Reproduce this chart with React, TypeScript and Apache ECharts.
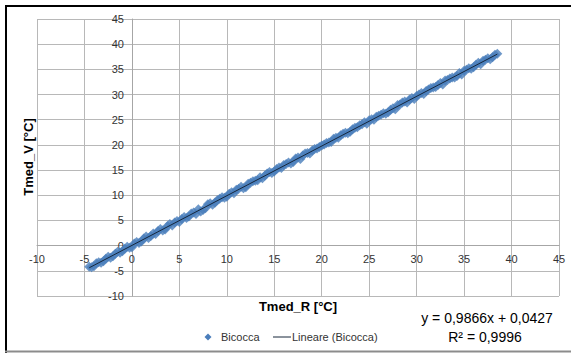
import React, { useEffect, useRef } from "react";
import * as echarts from "echarts";

const tmedR = [
  -4.5, -4.0, -3.5, -3.0, -2.5, -2.0, -1.5, -1.0, -0.5, 0, 0.5, 1.0, 1.5, 2.0, 2.5, 3.0, 3.5, 4.0, 4.5, 5.0,
  5.5, 6.0, 6.5, 7.0, 7.5, 8.0, 8.5, 9.0, 9.5, 10.0, 10.5, 11.0, 11.5, 12.0, 12.5, 13.0, 13.5, 14.0, 14.5, 15.0,
  15.5, 16.0, 16.5, 17.0, 17.5, 18.0, 18.5, 19.0, 19.5, 20.0, 20.5, 21.0, 21.5, 22.0, 22.5, 23.0, 23.5, 24.0, 24.5, 25.0,
  25.5, 26.0, 26.5, 27.0, 27.5, 28.0, 28.5, 29.0, 29.5, 30.0, 30.5, 31.0, 31.5, 32.0, 32.5, 33.0, 33.5, 34.0, 34.5, 35.0,
  35.5, 36.0, 36.5, 37.0, 37.5, 38.0, 38.5,
];
const tmedV = [
  -4.2, -4.1, -3.3, -3.1, -2.2, -2.1, -1.2, -1.1, -0.2, -0.3, 0.7, 0.8, 1.8, 1.9, 2.3, 3.3, 3.2, 4.3, 4.6, 4.7,
  5.7, 5.8, 6.6, 7.2, 7.1, 8.2, 8.1, 9.0, 9.6, 9.7, 10.6, 11.1, 11.7, 11.6, 12.5, 12.9, 13.6, 13.9, 14.6, 14.7,
  15.5, 16.0, 16.5, 16.6, 17.5, 17.9, 18.4, 18.9, 19.3, 19.9, 20.4, 20.6, 21.4, 21.9, 22.4, 22.6, 23.4, 23.9, 24.5, 24.9,
  25.0, 25.8, 26.3, 26.5, 27.3, 27.9, 28.4, 28.4, 29.3, 29.7, 30.3, 30.7, 31.3, 31.5, 32.3, 32.8, 33.2, 33.4, 34.3, 34.7,
  35.2, 35.4, 36.3, 36.7, 37.2, 37.4, 38.1,
];
// second, interleaved set of readings to give the band its thickness
const tmedR2 = [
  -4.25, -3.75, -3.25, -2.75, -2.25, -1.75, -1.25, -0.75, -0.25, 0.25, 0.75, 1.25, 1.75, 2.25, 2.75, 3.25, 3.75, 4.25, 4.75,
  5.25, 5.75, 6.25, 6.75, 7.25, 7.75, 8.25, 8.75, 9.25, 9.75, 10.25, 10.75, 11.25, 11.75, 12.25, 12.75, 13.25, 13.75, 14.25,
  14.75, 15.25, 15.75, 16.25, 16.75, 17.25, 17.75, 18.25, 18.75, 19.25, 19.75, 20.25, 20.75, 21.25, 21.75, 22.25, 22.75,
  23.25, 23.75, 24.25, 24.75, 25.25, 25.75, 26.25, 26.75, 27.25, 27.75, 28.25, 28.75, 29.25, 29.75, 30.25, 30.75, 31.25,
  31.75, 32.25, 32.75, 33.25, 33.75, 34.25, 34.75, 35.25, 35.75, 36.25, 36.75, 37.25, 37.75, 38.25,
];
const tmedV2 = [
  -4.3, -3.5, -3.4, -2.6, -2.4, -1.6, -1.4, -0.6, -0.4, 0.4, 0.5, 1.4, 1.5, 2.4, 2.9, 3.0, 3.9, 4.0, 4.9,
  5.3, 5.5, 6.4, 6.3, 6.8, 7.4, 8.4, 8.5, 9.3, 9.5, 10.3, 10.4, 11.3, 11.4, 12.3, 12.8, 13.0, 13.4, 14.3,
  14.4, 15.2, 15.4, 16.2, 16.3, 17.3, 17.2, 18.3, 18.3, 19.2, 19.6, 20.1, 20.5, 21.2, 21.4, 22.2, 22.3,
  23.1, 23.5, 24.1, 24.2, 25.1, 25.6, 26.0, 26.2, 27.0, 27.1, 28.0, 28.6, 29.0, 29.1, 30.0, 30.1, 31.0,
  31.4, 31.9, 32.0, 32.9, 33.4, 33.7, 34.0, 34.9, 35.1, 35.9, 36.0, 36.9, 37.0, 37.9,
];

// trendline end points (y = 0,9866x + 0,0427)
const trendR = [-4.5, 38.5];
const trendV = [-4.397, 38.027];

const axisTicks = [-10, 45, 5];

const FONT = "'Liberation Sans', Arial, sans-serif";

const GRID = { left: 37, right: 12, top: 19, bottom: 57 };
const W = 571;
const H = 353;

export default function App() {
  const ref = useRef<HTMLDivElement>(null);
  useEffect(() => {
    document.body.style.margin = "0";
    const chart = echarts.init(ref.current!, null, { renderer: "svg" });
    const scatter = tmedR.map((x, i) => [x, tmedV[i]]).concat(tmedR2.map((x, i) => [x, tmedV2[i]]));
    const trend = trendR.map((x, i) => [x, trendV[i]]);
    const span = axisTicks[1] - axisTicks[0];
    const gw = W - GRID.left - GRID.right;
    const gh = H - GRID.top - GRID.bottom;
    // put each axis line through the other axis's zero
    const xOffset = -((0 - axisTicks[0]) / span) * gh;
    const yOffset = -((0 - axisTicks[0]) / span) * gw;
    const axisCommon = {
      type: "value" as const,
      min: axisTicks[0],
      max: axisTicks[1],
      interval: axisTicks[2],
      axisLine: { onZero: false, lineStyle: { color: "#a6a6a6", width: 1 } },
      axisTick: { show: false },
      splitLine: { show: true, lineStyle: { color: "#b8b8b8", width: 1 } },
      axisLabel: { color: "#333", fontSize: 11, fontFamily: FONT, margin: 8 },
    };
    chart.setOption({
      animation: false,
      backgroundColor: "#ffffff",
      grid: { ...GRID, containLabel: false },
      xAxis: { ...axisCommon, position: "bottom", offset: xOffset },
      yAxis: { ...axisCommon, position: "left", offset: yOffset },
      series: [
        {
          name: "Bicocca",
          type: "scatter",
          symbol: "diamond",
          symbolSize: 10,
          itemStyle: { color: "#4a7ebb" },
          data: scatter,
          z: 2,
        },
        {
          name: "Lineare (Bicocca)",
          type: "line",
          showSymbol: false,
          lineStyle: { color: "#16263a", width: 1 },
          data: trend,
          z: 3,
        },
      ],
      graphic: [
        { type: "line", shape: { x1: 5, y1: 6, x2: 571, y2: 6 }, style: { stroke: "#000", lineWidth: 2 } },
        { type: "line", shape: { x1: 6, y1: 5, x2: 6, y2: 353 }, style: { stroke: "#000", lineWidth: 2 } },
        { type: "line", shape: { x1: 5, y1: 351.5, x2: 571, y2: 351.5 }, style: { stroke: "#8c8c8c", lineWidth: 2 } },
        {
          type: "text",
          x: 298,
          y: 306,
          style: { text: "Tmed_R [°C]", font: `bold 13px ${FONT}`, fill: "#000", align: "center", verticalAlign: "middle" },
        },
        {
          type: "text",
          x: 28,
          y: 157,
          rotation: Math.PI / 2,
          style: { text: "Tmed_V [°C]", font: `bold 13px ${FONT}`, fill: "#000", align: "center", verticalAlign: "middle" },
        },
        {
          type: "text",
          x: 487,
          y: 318,
          style: { text: "y = 0,9866x + 0,0427", font: `14px ${FONT}`, fill: "#000", align: "center", verticalAlign: "middle" },
        },
        {
          type: "text",
          x: 485,
          y: 337,
          style: { text: "R² = 0,9996", font: `14px ${FONT}`, fill: "#000", align: "center", verticalAlign: "middle" },
        },
        {
          type: "polygon",
          shape: { points: [[208, 333.5], [211.5, 337], [208, 340.5], [204.5, 337]] },
          style: { fill: "#4a7ebb" },
        },
        {
          type: "text",
          x: 221,
          y: 337,
          style: { text: "Bicocca", font: `11px ${FONT}`, fill: "#333", align: "left", verticalAlign: "middle" },
        },
        { type: "line", shape: { x1: 273, y1: 337, x2: 291, y2: 337 }, style: { stroke: "#16263a", lineWidth: 1 } },
        {
          type: "text",
          x: 292,
          y: 337,
          style: { text: "Lineare (Bicocca)", font: `11px ${FONT}`, fill: "#333", align: "left", verticalAlign: "middle" },
        },
      ],
    });
    return () => chart.dispose();
  }, []);
  return <div ref={ref} style={{ position: "fixed", left: 0, top: 0, width: W, height: H }} />;
}
